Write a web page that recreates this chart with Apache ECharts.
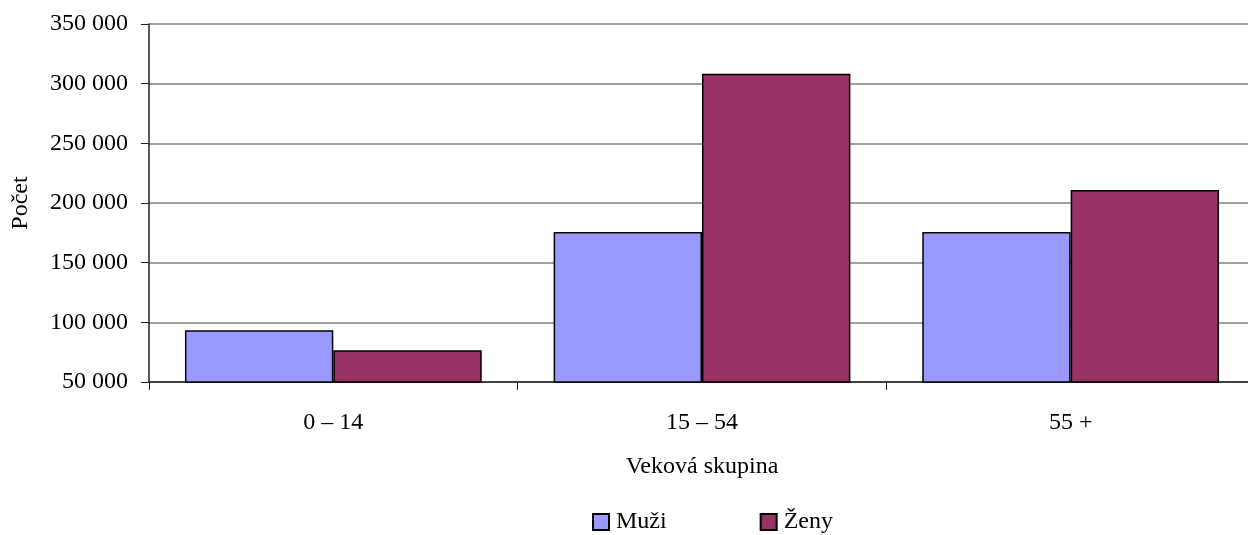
<!DOCTYPE html>
<html>
<head>
<meta charset="utf-8">
<script src="https://cdn.jsdelivr.net/npm/echarts@6/dist/echarts.min.js"></script>
<style>
html,body{margin:0;padding:0;background:#fff;overflow:hidden;width:1248px;height:535px;}
#c{width:1262px;height:535px;}
</style>
</head>
<body>
<div id="c"></div>
<script>
const categories = ['0 – 14', '15 – 54', '55 +'];
const seriesNames = ['Muži', 'Ženy'];
const muzi = [93400, 175600, 175800];
const zeny = [76600, 308400, 210800];
const yMin = 50000, yMax = 350000, yStep = 50000;

const FONT = '"Liberation Serif", "Times New Roman", serif';
const chart = echarts.init(document.getElementById('c'), null, {renderer: 'canvas'});
const fmt = v => String(v).replace(/\B(?=(\d{3})+(?!\d))/g, ' ');

chart.setOption({
  animation: false,
  textStyle: {fontFamily: FONT, color: '#000'},
  grid: {left: 149, top: 24, right: 7, bottom: 153, containLabel: false},
  legend: {
    top: 510,
    left: 592,
    padding: 0,
    itemWidth: 16, itemHeight: 16,
    itemGap: 93,
    textStyle: {fontFamily: FONT, fontSize: 24, color: '#000', padding: [0, 0, 0, 2]},
    icon: 'rect',
    data: seriesNames
  },
  xAxis: {
    type: 'category',
    data: categories,
    name: 'Veková skupina',
    nameLocation: 'middle',
    nameGap: 73,
    nameTextStyle: {fontFamily: FONT, fontSize: 24, color: '#000'},
    axisLine: {lineStyle: {color: '#222', width: 1.5}},
    axisTick: {show: true, length: 8, lineStyle: {color: '#222'}},
    axisLabel: {fontFamily: FONT, fontSize: 24, color: '#000', margin: 29},
    splitLine: {show: false}
  },
  yAxis: {
    type: 'value',
    min: yMin, max: yMax, interval: yStep,
    name: 'Počet',
    nameLocation: 'middle',
    nameGap: 116,
    nameRotate: 90,
    nameTextStyle: {fontFamily: FONT, fontSize: 24, color: '#000'},
    axisLine: {show: true, lineStyle: {color: '#222', width: 1.5}},
    axisTick: {show: true, length: 8, lineStyle: {color: '#222'}},
    axisLabel: {fontFamily: FONT, fontSize: 24, color: '#000', margin: 21, formatter: fmt},
    splitLine: {show: true, lineStyle: {color: '#808080', width: 1.5}}
  },
  series: [
    {
      name: seriesNames[0], type: 'bar', data: muzi,
      barGap: '0%', barCategoryGap: '19.5%',
      itemStyle: {color: '#9999FF', borderColor: '#000', borderWidth: 1.5}
    },
    {
      name: seriesNames[1], type: 'bar', data: zeny,
      barGap: '0%', barCategoryGap: '19.5%',
      itemStyle: {color: '#993366', borderColor: '#000', borderWidth: 1.5}
    }
  ]
});
</script>
</body>
</html>
